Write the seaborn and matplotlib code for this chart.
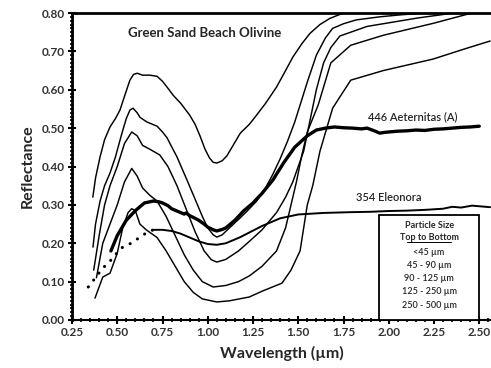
import matplotlib
matplotlib.use("Agg")
import matplotlib.pyplot as plt
import seaborn as sns
import numpy as np
from matplotlib.ticker import MultipleLocator, FormatStrFormatter
from matplotlib.patches import Rectangle

sns.set_theme(style="white")
plt.rcParams['font.family'] = ['Lato', 'DejaVu Sans']

# ---- data ----
c1_x = [0.365, 0.38, 0.405, 0.43, 0.46, 0.49, 0.515, 0.545, 0.57, 0.59, 0.61, 0.64, 0.68, 0.72, 0.75, 0.775, 0.81, 0.85, 0.90, 0.93, 0.957, 0.985, 1.01, 1.03, 1.05, 1.08, 1.106, 1.14, 1.18, 1.23, 1.27, 1.32, 1.38, 1.43, 1.47, 1.52, 1.565, 1.62, 1.675, 1.75, 1.82]
c1_y = [0.32, 0.37, 0.425, 0.47, 0.503, 0.525, 0.547, 0.59, 0.625, 0.64, 0.643, 0.638, 0.638, 0.635, 0.622, 0.607, 0.585, 0.565, 0.534, 0.51, 0.48, 0.445, 0.422, 0.411, 0.409, 0.415, 0.428, 0.455, 0.487, 0.51, 0.534, 0.565, 0.607, 0.65, 0.685, 0.72, 0.747, 0.77, 0.786, 0.80, 0.81]

c2_x = [0.366, 0.38, 0.405, 0.43, 0.46, 0.49, 0.526, 0.55, 0.57, 0.587, 0.61, 0.626, 0.664, 0.72, 0.75, 0.775, 0.80, 0.83, 0.885, 0.93, 0.97, 1.00, 1.03, 1.05, 1.08, 1.12, 1.17, 1.22, 1.27, 1.32, 1.36, 1.40, 1.44, 1.48, 1.51, 1.55, 1.60, 1.65, 1.69, 1.75, 1.82, 1.95, 2.06, 2.20, 2.30]
c2_y = [0.19, 0.25, 0.31, 0.35, 0.383, 0.425, 0.487, 0.525, 0.547, 0.552, 0.54, 0.528, 0.516, 0.505, 0.49, 0.475, 0.452, 0.425, 0.365, 0.315, 0.27, 0.24, 0.222, 0.216, 0.222, 0.24, 0.262, 0.285, 0.31, 0.345, 0.38, 0.42, 0.465, 0.515, 0.56, 0.62, 0.69, 0.735, 0.76, 0.772, 0.782, 0.79, 0.795, 0.80, 0.81]

c3_x = [0.37, 0.40, 0.43, 0.46, 0.50, 0.54, 0.58, 0.61, 0.64, 0.68, 0.735, 0.78, 0.83, 0.88, 0.93, 0.98, 1.02, 1.05, 1.10, 1.17, 1.23, 1.30, 1.38, 1.43, 1.47, 1.53, 1.565, 1.60, 1.64, 1.68, 1.73, 1.88, 2.16, 2.36, 2.45]
c3_y = [0.13, 0.22, 0.30, 0.35, 0.40, 0.46, 0.49, 0.48, 0.455, 0.445, 0.43, 0.40, 0.35, 0.29, 0.23, 0.18, 0.157, 0.151, 0.158, 0.18, 0.205, 0.235, 0.28, 0.32, 0.36, 0.44, 0.52, 0.60, 0.67, 0.71, 0.74, 0.765, 0.787, 0.80, 0.81]

c4_x = [0.385, 0.42, 0.46, 0.50, 0.54, 0.58, 0.61, 0.64, 0.68, 0.72, 0.77, 0.82, 0.87, 0.92, 0.97, 1.03, 1.10, 1.17, 1.23, 1.30, 1.38, 1.43, 1.465, 1.49, 1.52, 1.55, 1.61, 1.68, 1.79, 1.97, 2.245, 2.46, 2.56]
c4_y = [0.11, 0.20, 0.25, 0.30, 0.36, 0.395, 0.375, 0.344, 0.325, 0.31, 0.27, 0.22, 0.17, 0.13, 0.10, 0.086, 0.09, 0.10, 0.115, 0.14, 0.18, 0.24, 0.31, 0.36, 0.43, 0.49, 0.56, 0.67, 0.716, 0.742, 0.773, 0.80, 0.81]

c5_x = [0.377, 0.42, 0.46, 0.50, 0.53, 0.56, 0.58, 0.60, 0.625, 0.66, 0.72, 0.77, 0.82, 0.87, 0.92, 0.97, 1.05, 1.12, 1.23, 1.30, 1.41, 1.46, 1.51, 1.55, 1.58, 1.62, 1.69, 1.79, 1.97, 2.245, 2.43, 2.56]
c5_y = [0.057, 0.112, 0.122, 0.174, 0.24, 0.28, 0.29, 0.285, 0.25, 0.235, 0.215, 0.18, 0.14, 0.10, 0.072, 0.055, 0.047, 0.05, 0.06, 0.075, 0.096, 0.13, 0.18, 0.30, 0.35, 0.44, 0.552, 0.625, 0.65, 0.68, 0.708, 0.727]

aet_x = [0.465, 0.50, 0.55, 0.60, 0.65, 0.70, 0.73, 0.75, 0.78, 0.80, 0.83, 0.85, 0.87, 0.88, 0.90, 0.93, 0.95, 0.98, 1.00, 1.03, 1.05, 1.08, 1.10, 1.15, 1.20, 1.25, 1.30, 1.36, 1.42, 1.48, 1.55, 1.60, 1.65, 1.70, 1.75, 1.80, 1.85, 1.88, 1.92, 1.95, 1.98, 2.00, 2.05, 2.10, 2.15, 2.20, 2.25, 2.30, 2.35, 2.40, 2.45, 2.50]
aet_y = [0.18, 0.22, 0.26, 0.285, 0.305, 0.31, 0.308, 0.305, 0.298, 0.29, 0.284, 0.28, 0.276, 0.279, 0.272, 0.265, 0.26, 0.25, 0.242, 0.235, 0.232, 0.236, 0.24, 0.26, 0.285, 0.305, 0.33, 0.365, 0.41, 0.45, 0.48, 0.495, 0.50, 0.503, 0.501, 0.50, 0.498, 0.50, 0.493, 0.487, 0.489, 0.49, 0.492, 0.493, 0.495, 0.494, 0.497, 0.498, 0.50, 0.502, 0.503, 0.505]

ele_x = [0.70, 0.75, 0.80, 0.85, 0.90, 0.95, 1.00, 1.05, 1.10, 1.18, 1.30, 1.40, 1.50, 1.64, 1.79, 1.90, 2.00, 2.10, 2.20, 2.30, 2.35, 2.40, 2.46, 2.56]
ele_y = [0.235, 0.235, 0.232, 0.225, 0.215, 0.205, 0.198, 0.196, 0.20, 0.216, 0.245, 0.265, 0.275, 0.279, 0.281, 0.282, 0.284, 0.285, 0.287, 0.29, 0.295, 0.293, 0.298, 0.294]

dot_x = [0.34, 0.42, 0.465, 0.52, 0.576, 0.67, 0.70]
dot_y = [0.086, 0.135, 0.156, 0.187, 0.20, 0.23, 0.235]

sizes = ["<45 \u00b5m", "45 - 90 \u00b5m", "90 - 125 \u00b5m", "125 - 250 \u00b5m", "250 - 500 \u00b5m"]

fig = plt.figure(figsize=(4.91, 3.68), dpi=100)
ax = fig.add_axes([72/491, 1-320/368, 1-72/491, (320-13)/368])

for xs, ys in [(c1_x, c1_y), (c2_x, c2_y), (c3_x, c3_y), (c4_x, c4_y), (c5_x, c5_y)]:
    sns.lineplot(x=xs, y=ys, ax=ax, sort=False, estimator=None, color="black", lw=1.05)
sns.lineplot(x=ele_x, y=ele_y, ax=ax, sort=False, estimator=None, color="black", lw=1.4)
sns.lineplot(x=aet_x, y=aet_y, ax=ax, sort=False, estimator=None, color="black", lw=2.4)
ln = ax.plot(dot_x, dot_y, color="black", lw=2.2, linestyle=(0, (0.05, 2.8)))[0]
ln.set_dash_capstyle("round")

ax.set_xlim(0.25, 0.25 + (491 - 72) / 181)
ax.set_ylim(0.0, 0.80)
ax.xaxis.set_major_locator(MultipleLocator(0.25))
ax.xaxis.set_minor_locator(MultipleLocator(0.05))
ax.yaxis.set_major_locator(MultipleLocator(0.10))
ax.yaxis.set_minor_locator(MultipleLocator(0.01))
ax.xaxis.set_major_formatter(FormatStrFormatter("%.2f"))
ax.yaxis.set_major_formatter(FormatStrFormatter("%.2f"))
ax.tick_params(axis="both", which="major", direction="inout", length=6, width=1.5,
               labelsize=8.5, colors="black", pad=2)
ax.tick_params(axis="both", which="minor", direction="inout", length=3, width=1.2, colors="black")
ax.tick_params(axis="x", which="both", bottom=True, top=False)
ax.tick_params(axis="y", which="both", left=True, right=False)
for lab in ax.get_xticklabels() + ax.get_yticklabels():
    lab.set_fontweight("bold")
    lab.set_color("#333333")

for s in ["left", "bottom", "top"]:
    ax.spines[s].set_visible(True)
    ax.spines[s].set_color("black")
ax.spines["left"].set_linewidth(2.0)
ax.spines["bottom"].set_linewidth(1.5)
ax.spines["top"].set_linewidth(2.0)
ax.spines["right"].set_visible(False)

ax.set_xlabel("Wavelength (\u00b5m)", fontsize=11.5, fontweight="bold", labelpad=6)
ax.set_ylabel("Reflectance", fontsize=11.5, fontweight="bold", labelpad=5)

ax.text(0.98, 0.747, "Green Sand Beach Olivine", fontsize=9.5, fontweight="bold",
        ha="center", va="center")
ax.text(2.13, 0.53, "446 Aeternitas (A)", fontsize=8, fontweight="semibold", ha="center", va="center")
ax.text(2.0, 0.32, "354 Eleonora", fontsize=8, fontweight="semibold", ha="center", va="center")

# legend box
ax.add_patch(Rectangle((1.946, 0.0), 2.50 - 1.946, 0.273, facecolor="white",
                       edgecolor="black", lw=1.3, zorder=5))
ys_txt = [0.247, 0.214, 0.177, 0.143, 0.109, 0.073, 0.039]
ax.text(2.223, ys_txt[0], "Particle Size", fontsize=6.5, fontweight="bold", ha="center", va="center", zorder=6)
ax.text(2.223, ys_txt[1], "Top to Bottom", fontsize=6.5, fontweight="bold", ha="center", va="center", zorder=6)
ax.plot([2.10, 2.346], [ys_txt[1] - 0.012] * 2, color="black", lw=0.7, zorder=6)
for yy, s in zip(ys_txt[2:], sizes):
    ax.text(2.223, yy, s, fontsize=6.5, fontweight="semibold", ha="center", va="center", zorder=6)

fig.savefig("out.png", dpi=100)
